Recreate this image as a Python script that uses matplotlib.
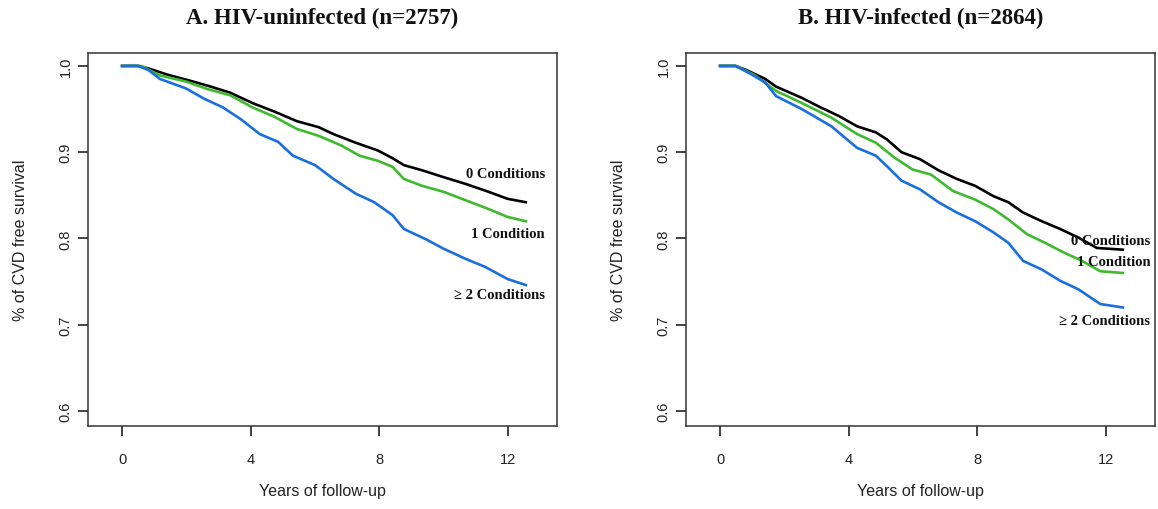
import matplotlib
matplotlib.use("Agg")
import matplotlib.pyplot as plt

# ---- Data ----
titles = ["A. HIV-uninfected (n=2757)", "B. HIV-infected (n=2864)"]
group_labels = ["0 Conditions", "1 Condition", "\u2265 2 Conditions"]

# Panel A: HIV-uninfected
a0_t = [0, 0.5, 0.83, 1.4, 2.1, 2.67, 3.36, 4.05, 4.74, 5.43, 6.11, 6.57, 7.26, 7.95, 8.41, 8.76, 9.33, 10.0, 10.7, 11.4, 11.98, 12.55]
a0_s = [1.0, 1.0, 0.997, 0.990, 0.983, 0.977, 0.969, 0.957, 0.947, 0.936, 0.929, 0.921, 0.911, 0.902, 0.893, 0.885, 0.879, 0.871, 0.863, 0.854, 0.846, 0.842]
a1_t = [0, 0.6, 1.17, 1.98, 2.67, 3.36, 4.05, 4.74, 5.43, 6.11, 6.8, 7.38, 7.95, 8.41, 8.76, 9.33, 10.0, 10.7, 11.4, 11.98, 12.55]
a1_s = [1.0, 1.0, 0.989, 0.982, 0.973, 0.966, 0.952, 0.941, 0.927, 0.919, 0.908, 0.896, 0.890, 0.883, 0.869, 0.861, 0.854, 0.844, 0.834, 0.825, 0.820]
a2_t = [0, 0.5, 0.83, 1.17, 1.98, 2.55, 3.13, 3.7, 4.28, 4.85, 5.31, 6.0, 6.57, 7.26, 7.84, 8.41, 8.76, 9.45, 10.0, 10.7, 11.29, 11.98, 12.55]
a2_s = [1.0, 1.0, 0.995, 0.985, 0.974, 0.962, 0.952, 0.938, 0.921, 0.912, 0.896, 0.885, 0.869, 0.852, 0.842, 0.827, 0.811, 0.799, 0.788, 0.776, 0.767, 0.753, 0.746]

# Panel B: HIV-infected
b0_t = [0, 0.48, 0.83, 1.4, 1.74, 2.54, 3.12, 3.69, 4.26, 4.84, 5.18, 5.64, 6.21, 6.79, 7.36, 7.93, 8.5, 8.96, 9.42, 10.0, 10.57, 11.14, 11.71, 12.52]
b0_s = [1.0, 1.0, 0.995, 0.985, 0.976, 0.963, 0.952, 0.942, 0.930, 0.923, 0.915, 0.900, 0.892, 0.879, 0.869, 0.861, 0.849, 0.842, 0.830, 0.820, 0.811, 0.801, 0.789, 0.787]
b1_t = [0, 0.48, 0.6, 1.05, 1.74, 2.54, 3.46, 4.26, 4.84, 5.41, 5.98, 6.56, 7.24, 7.93, 8.5, 8.96, 9.54, 10.1, 10.67, 11.25, 11.82, 12.52]
b1_s = [1.0, 1.0, 0.998, 0.990, 0.971, 0.957, 0.940, 0.921, 0.911, 0.894, 0.880, 0.874, 0.855, 0.845, 0.834, 0.822, 0.805, 0.795, 0.784, 0.774, 0.762, 0.760]
b2_t = [0, 0.48, 0.94, 1.4, 1.74, 2.54, 3.46, 4.26, 4.84, 5.18, 5.64, 6.21, 6.79, 7.36, 7.93, 8.5, 8.96, 9.42, 10.0, 10.57, 11.14, 11.82, 12.52]
b2_s = [1.0, 1.0, 0.991, 0.981, 0.965, 0.950, 0.930, 0.905, 0.896, 0.884, 0.867, 0.857, 0.842, 0.830, 0.820, 0.807, 0.795, 0.774, 0.764, 0.751, 0.741, 0.724, 0.720]

# label anchor positions (x in years, y in survival)
labels_a_x = 13.15
labels_b_x = 13.37
labels_a_y = [0.8748, 0.8052, 0.7345]
labels_b_y = [0.7977, 0.7734, 0.7052]

xticks = [0, 4, 8, 12]
yticks = [0.6, 0.7, 0.8, 0.9, 1.0]

colors = ["#000000", "#3fba2e", "#1a6fe0"]

panels = [
    (titles[0], [(a0_t, a0_s), (a1_t, a1_s), (a2_t, a2_s)], labels_a_x, labels_a_y),
    (titles[1], [(b0_t, b0_s), (b1_t, b1_s), (b2_t, b2_s)], labels_b_x, labels_b_y),
]

fig = plt.figure(figsize=(11.58, 5.10), dpi=100)
W, H = 1158, 510
axes_px = [(88, 557), (686, 1155)]
top_px, bot_px = 54, 427

serif = ["Liberation Serif", "DejaVu Serif"]
sans = ["Liberation Sans", "DejaVu Sans"]

for (title, series, lab_x, lab_y), (l, r) in zip(panels, axes_px):
    ax = fig.add_axes([l / W, 1 - bot_px / H, (r - l) / W, (bot_px - top_px) / H])
    for (t, s), c in zip(series, colors):
        ax.plot(t, s, color=c, lw=1.9, solid_joinstyle="miter")
    ax.set_xlim(-1.06, 13.52)
    ax.set_ylim(0.5826, 1.015)
    ax.set_xticks(xticks)
    ax.set_xticklabels([str(v) for v in xticks], fontfamily=sans, fontsize=10.5)
    ax.set_yticks(yticks)
    ax.set_yticklabels(["%.1f" % v for v in yticks], fontfamily=sans, fontsize=10.5,
                       rotation=90, va="center")
    ax.tick_params(axis="both", direction="out", length=7, width=1.2, color="#222222",
                   labelcolor="#222222")
    ax.tick_params(axis="x", pad=12)
    ax.tick_params(axis="y", pad=4)
    for sp in ax.spines.values():
        sp.set_linewidth(1.1)
        sp.set_color("#333333")
    ax.set_xlabel("Years of follow-up", fontfamily=sans, fontsize=11.5, labelpad=12,
                  color="#222222")
    ax.set_ylabel("% of CVD free survival", fontfamily=sans, fontsize=11.5, labelpad=22,
                  color="#222222")
    for txt, yy in zip(group_labels, lab_y):
        ax.text(lab_x, yy, txt, ha="right", va="center", fontfamily=serif,
                fontweight="bold", fontsize=10.5, color="#111111")
    fig.text((l + r) / 2 / W, 1 - 18 / H, title, ha="center", va="center",
             fontfamily=serif, fontweight="bold", fontsize=16.5, color="#111111")

fig.savefig("out.png", dpi=100, facecolor="white")
